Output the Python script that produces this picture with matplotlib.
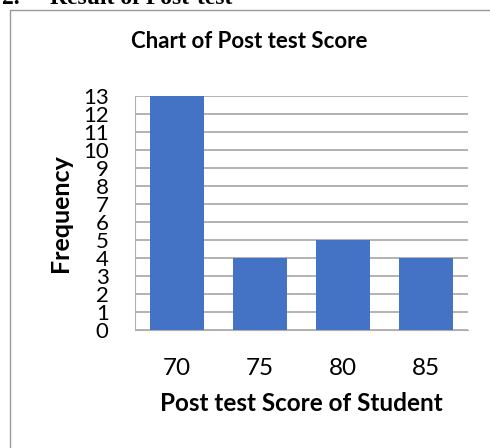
import matplotlib.pyplot as plt
from matplotlib.lines import Line2D

# data
scores = ['70', '75', '80', '85']
frequency = [13, 4, 5, 4]
y_ticks = list(range(0, 14))

plt.rcParams['font.family'] = ['Lato', 'DejaVu Sans']

fig = plt.figure(figsize=(4.9, 4.48), dpi=100)
ax = fig.add_axes([135 / 490, 118 / 448, 333 / 490, 234 / 448])

ax.bar(scores, frequency, width=0.65, color='#4472C4', zorder=3)
ax.set_xlim(-0.5, 3.5)
ax.set_ylim(0, 13)
ax.set_yticks(y_ticks)
ax.yaxis.grid(True, color='#a6a6a6', linewidth=1.2, zorder=0)
ax.tick_params(axis='both', length=0)
ax.tick_params(axis='y', pad=19, labelsize=16)
ax.tick_params(axis='x', pad=20, labelsize=17.5)
for side in ['top', 'right']:
    ax.spines[side].set_visible(False)
for side in ['left', 'bottom']:
    ax.spines[side].set_color('#b0b0b0')

ax.set_xlabel('Post test Score of Student', fontsize=17.5, fontweight='bold', va='center')
ax.xaxis.set_label_coords(0.5, (330 - 403) / 234)
ax.set_ylabel('Frequency', fontsize=18, fontweight='bold', va='center')
ax.yaxis.set_label_coords((61 - 135) / 333, 0.5)
fig.text(249 / 490, 1 - 41 / 448, 'Chart of Post test Score', fontsize=16,
         fontweight='bold', ha='center', va='center')

# cut-off section heading and the chart border
fig.text(2 / 490, 1 - 4 / 448, '2.', family='Liberation Serif',
         fontsize=17, fontweight='bold', va='baseline')
fig.text(50 / 490, 1 - 4 / 448, 'Result of Post-test', family='Liberation Serif',
         fontsize=17, fontweight='bold', va='baseline')
fig.add_artist(Line2D([9.5 / 490, 9.5 / 490, 1.0], [0.0, 1 - 10 / 448, 1 - 10 / 448],
                      transform=fig.transFigure, color='#999999', linewidth=1))

fig.savefig('out.png', dpi=100)
